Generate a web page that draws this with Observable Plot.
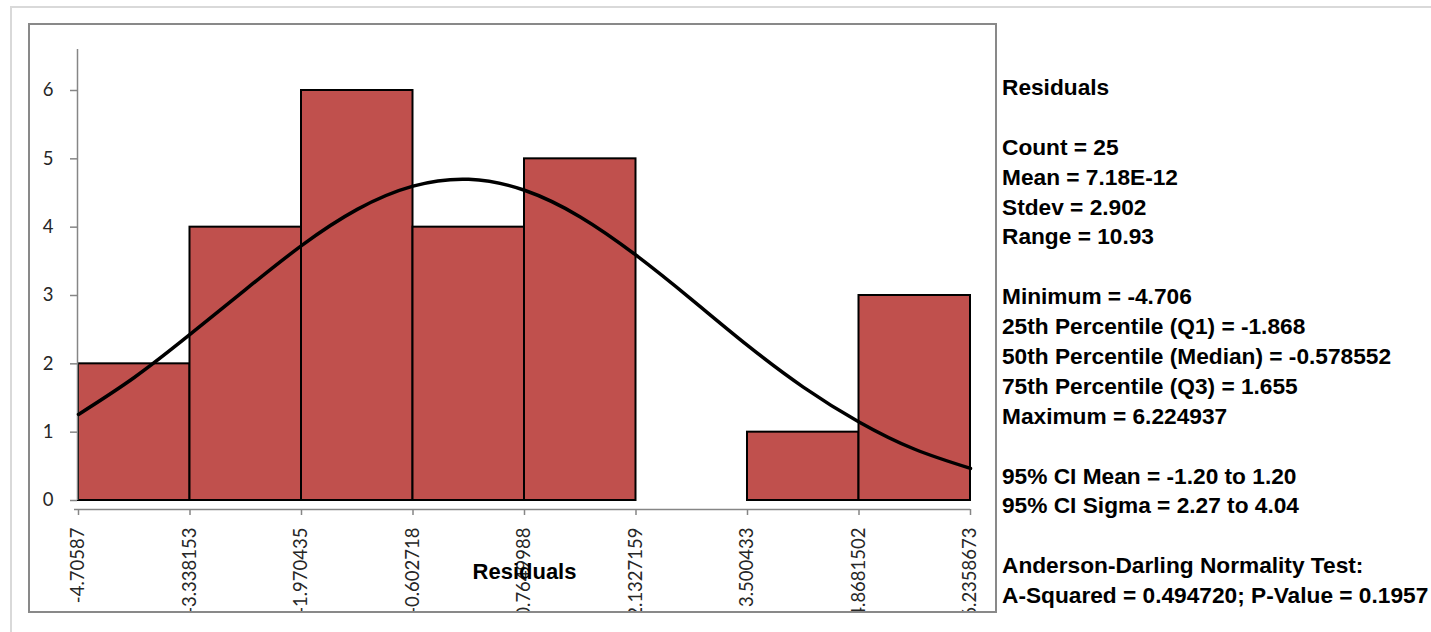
<!DOCTYPE html>
<html>
<head>
<meta charset="utf-8">
<script src="https://cdn.jsdelivr.net/npm/d3@7"></script>
<script src="https://cdn.jsdelivr.net/npm/@observablehq/plot@0.6"></script>
<style>
  html, body { margin: 0; padding: 0; background: #fff; }
  #page { position: relative; width: 1431px; height: 632px; overflow: hidden; }
  #outer { position: absolute; left: 10px; top: 6px; width: 1440px; height: 700px;
           border-top: 2px solid #d9d9d9; border-left: 2px solid #d9d9d9; }
  #chartbox { position: absolute; left: 28px; top: 23px; width: 965px; height: 586px;
              border: 2px solid #898989; overflow: hidden; background: #fff; }
  #chartbox svg { overflow: hidden; display: block; }
  #stats { position: absolute; left: 1002px; top: 73px; font-family: "Liberation Sans", Arial, sans-serif;
           font-weight: bold; font-size: 22.7px; color: #000; white-space: pre; }
  #stats div { height: 29.9px; line-height: 29.9px; }
</style>
</head>
<body>
<div id="page">
  <div id="outer"></div>
  <div id="chartbox"></div>
  <div id="stats"></div>
</div>
<script>
// Histogram bin edges (x-axis tick positions) and their printed labels
const binEdges = [-4.70587, -3.338153, -1.970435, -0.602718, 0.7649988, 2.1327159, 3.500433, 4.8681502, 6.2358673];
const tickLabels = ["-4.70587", "-3.338153", "-1.970435", "-0.602718", "0.7649988", "2.1327159", "3.500433", "4.8681502", "6.2358673"];
// Counts per bin
const counts = [2, 4, 6, 4, 5, 0, 1, 3];
// Fitted normal curve
const curveX = [-4.70587, -4.022, -3.338153, -2.654, -1.970435, -1.2866, -0.602718, 0.0811, 0.7649988, 1.449, 2.1327159, 2.8164, 3.500433, 4.1843, 4.8681502, 5.552, 6.2358673];
const curveY = [1.26, 1.80, 2.43, 3.09, 3.73, 4.26, 4.60, 4.70, 4.54, 4.15, 3.59, 2.94, 2.27, 1.66, 1.15, 0.75, 0.47];
const yTicks = [0, 1, 2, 3, 4, 5, 6];
// Stats panel lines
const statLines = [
  "Residuals", "",
  "Count = 25", "Mean = 7.18E-12", "Stdev = 2.902", "Range = 10.93", "",
  "Minimum = -4.706", "25th Percentile (Q1) = -1.868", "50th Percentile (Median) = -0.578552",
  "75th Percentile (Q3) = 1.655", "Maximum = 6.224937", "",
  "95% CI Mean = -1.20 to 1.20", "95% CI Sigma = 2.27 to 4.04", "",
  "Anderson-Darling Normality Test:", "A-Squared = 0.494720; P-Value = 0.1957"
];

const bins = counts.map((c, i) => ({x1: binEdges[i], x2: binEdges[i + 1], count: c})).filter(d => d.count > 0);
const curve = curveX.map((x, i) => ({x, y: curveY[i]}));

const axisGray = "#868686";
const tickFont = "Lato, 'Open Sans', sans-serif";

const chart = Plot.plot({
  width: 965,
  height: 586,
  marginLeft: 48,
  marginRight: 25,
  marginTop: 24,
  marginBottom: 111,
  style: {background: "#fff", overflow: "hidden"},
  x: {domain: [binEdges[0], binEdges[binEdges.length - 1]]},
  y: {domain: [0, 6.6]},
  marks: [
    Plot.rectY(bins, {x1: "x1", x2: "x2", y1: 0, y2: "count", fill: "#c0504d", stroke: "#000", strokeWidth: 2}),
    Plot.ruleX([binEdges[0]], {stroke: axisGray, strokeWidth: 1.5, dx: -1}),
    Plot.ruleY([0], {stroke: axisGray, strokeWidth: 1.5, dy: 9, insetLeft: -4}),
    Plot.axisY({
      ticks: yTicks, tickSize: 7, tickPadding: 17, tickFormat: d3.format("d"), stroke: axisGray, strokeWidth: 1.5,
      fill: "#262626", fontSize: 18.5, fontFamily: tickFont, label: null, dx: -1
    }),
    Plot.axisX({
      ticks: binEdges, tickSize: 6, stroke: axisGray, strokeWidth: 1.5, text: null, label: null, dy: 9
    }),
    Plot.axisX({
      ticks: binEdges, tickSize: 0, tickPadding: 0,
      tickFormat: d => tickLabels[binEdges.indexOf(d)],
      tickRotate: -90, textAnchor: "end", lineAnchor: "middle",
      fill: "#262626", fontSize: 18.5, fontFamily: tickFont, label: null, dy: 27
    }),
    Plot.line(curve, {x: "x", y: "y", curve: "natural", stroke: "#000", strokeWidth: 3.5}),
    Plot.text(["Residuals"], {frameAnchor: "bottom", dy: 78, text: d => d, fontFamily: "'Liberation Sans', Arial, sans-serif",
      fontWeight: "bold", fontSize: 22, fill: "#000"})
  ]
});
document.getElementById("chartbox").appendChild(chart);

const stats = document.getElementById("stats");
for (const s of statLines) {
  const div = document.createElement("div");
  div.textContent = s || "\u00a0";
  stats.appendChild(div);
}
</script>
</body>
</html>
